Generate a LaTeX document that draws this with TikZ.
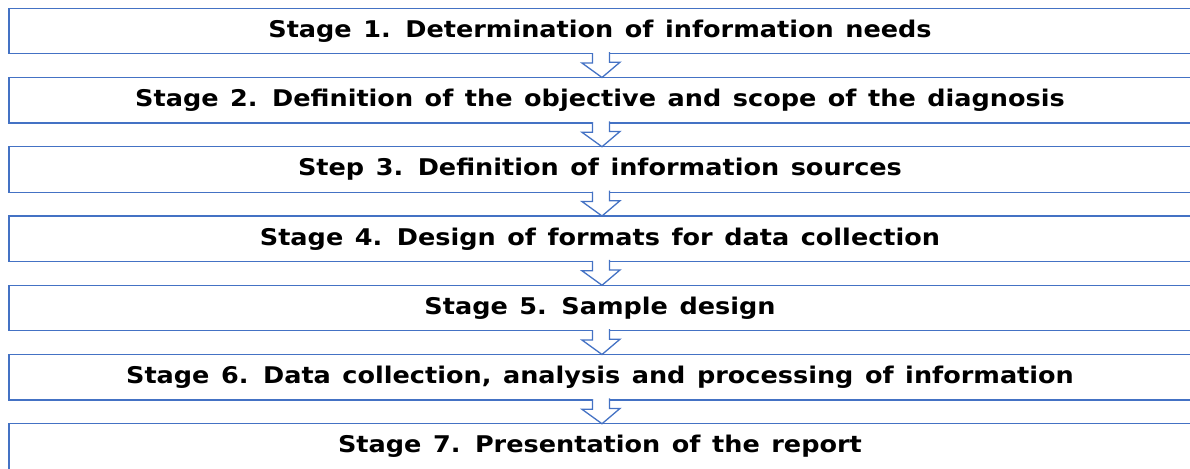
\documentclass[tikz,border=0pt]{standalone}
\usepackage{fontspec}
\setmainfont{DejaVu Sans}[FakeStretch = 1.11, WordSpace = 1.3]
\usetikzlibrary{positioning,calc}
\definecolor{stageblue}{HTML}{4472C4}
\tikzset{
    stagebox/.style = {draw = stageblue, line width = 1.3pt, minimum width = 1182pt, minimum height = 45.5pt,
        outer sep = 0pt, inner sep = 0pt, font = \fontsize{23}{27}\selectfont\bfseries},
    flowarrow/.style = {draw = stageblue, fill = white, line width = 1.3pt, line join = miter}
}
\begin{document}
\begin{tikzpicture}[x = 1pt, y = 1pt, node distance = 23.75pt]
        \useasboundingbox (0,0) rectangle (1190,468);
        \clip (0,0) rectangle (1190,468);
        \node[stagebox] (s1) at (600,437) {Stage 1. Determination of information needs};
        \node[stagebox, below = of s1] (s2) {Stage 2. Definition of the objective and scope of the diagnosis};
        \node[stagebox, below = of s2] (s3) {Step 3. Definition of information sources};
        \node[stagebox, below = of s3] (s4) {Stage 4. Design of formats for data collection};
        \node[stagebox, below = of s4] (s5) {Stage 5. Sample design};
        \node[stagebox, below = of s5] (s6) {Stage 6. Data collection, analysis and processing of information};
        \node[stagebox, below = of s6] (s7) {Stage 7. Presentation of the report};
        % hollow arrows between the stages
        \foreach \i/\j in {1/2, 2/3, 3/4, 4/5, 5/6, 6/7} {
            \draw[flowarrow] ($(s\i.south)+(-7.5pt,0.7pt)$) -- ++(0,-10pt) -- ++(-10.5pt,0)
                -- ($(s\j.north)+(2pt,0)$) -- ++(18pt,15.3pt) -- ++(-10.5pt,0) -- ++(0,10pt);
        }
    \end{tikzpicture}
\end{document}
